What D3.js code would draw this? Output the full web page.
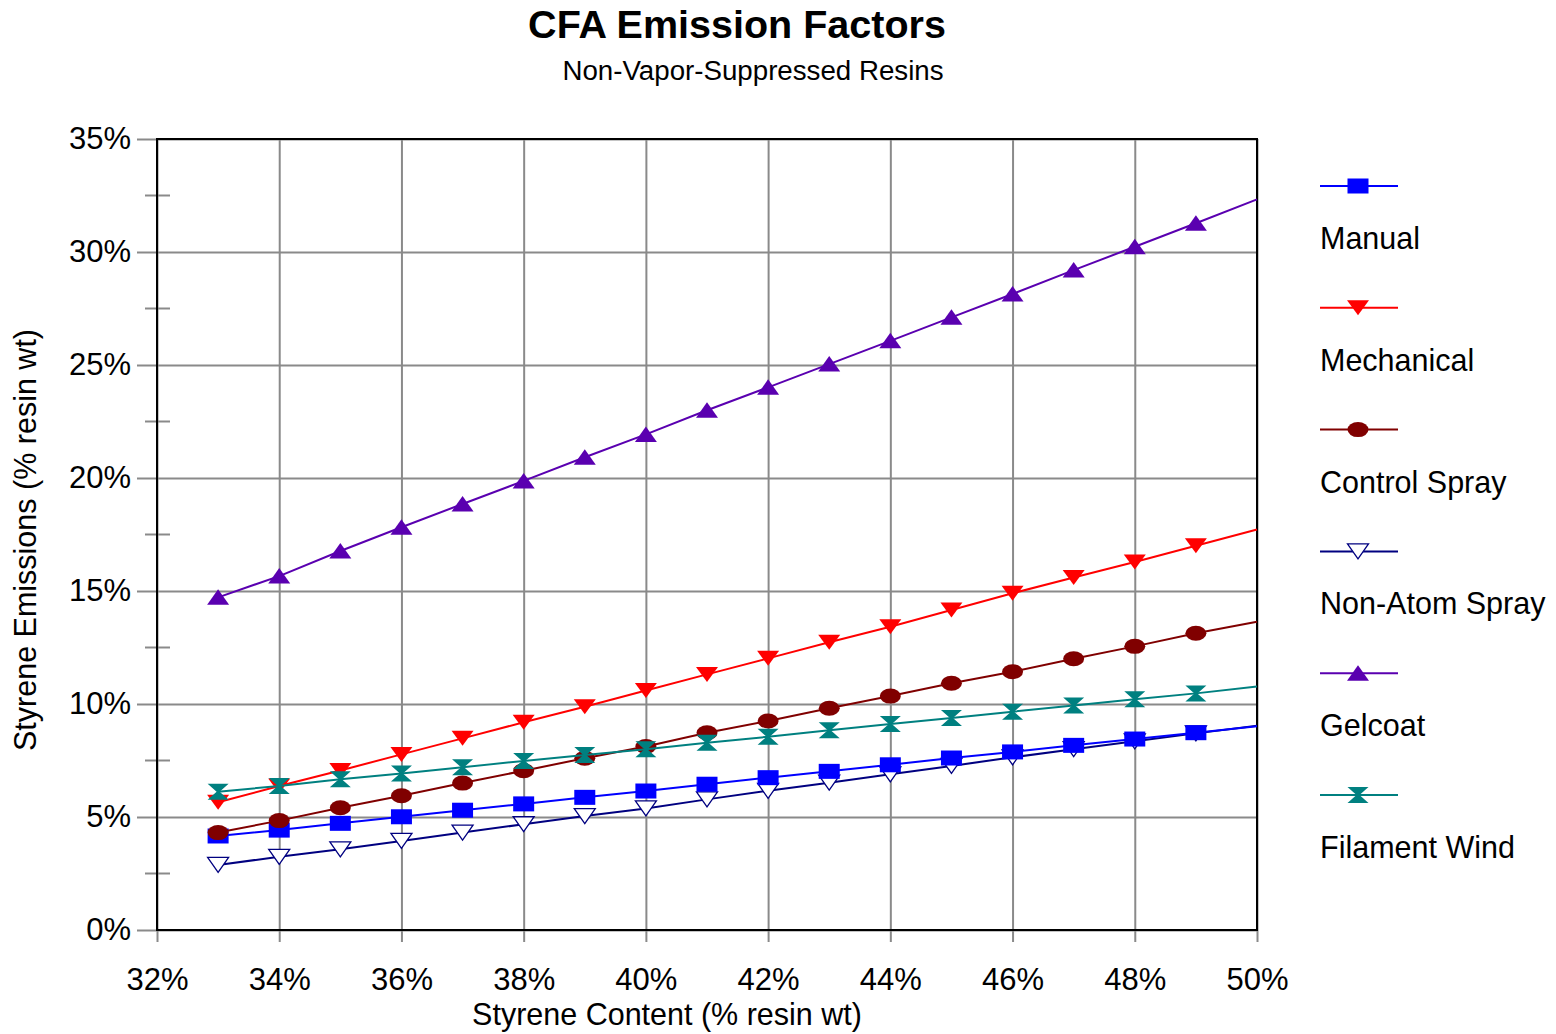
<!DOCTYPE html>
<html>
<head>
<meta charset="utf-8">
<script src="https://cdn.jsdelivr.net/npm/d3@7"></script>
<style>
  html, body { margin: 0; padding: 0; background: #fff; }
  svg { display: block; }
  text { font-family: "Liberation Sans", Arial, Helvetica, sans-serif; fill: #000; }
</style>
</head>
<body>
<svg id="chart" width="1556" height="1034"></svg>
<script>
// ---- data ----
const styreneContent = [33,34,35,36,37,38,39,40,41,42,43,44,45,46,47,48,49,50];
const manual      = [4.16,4.42,4.72,5.01,5.30,5.58,5.87,6.15,6.45,6.74,7.02,7.31,7.61,7.88,8.17,8.45,8.73,9.02];
const mechanical  = [5.65,6.37,7.06,7.77,8.48,9.19,9.88,10.60,11.31,12.02,12.73,13.42,14.16,14.90,15.60,16.28,17.00,17.72];
const controlSpray= [4.31,4.84,5.41,5.94,6.50,7.05,7.60,8.12,8.73,9.25,9.81,10.35,10.92,11.43,12.00,12.55,13.13,13.64];
const nonAtomSpray= [2.88,3.24,3.57,3.94,4.31,4.68,5.04,5.38,5.78,6.16,6.52,6.89,7.26,7.64,8.00,8.35,8.70,9.04];
const gelcoat     = [14.72,15.66,16.77,17.82,18.85,19.87,20.92,21.93,23.00,24.01,25.04,26.07,27.11,28.14,29.20,30.23,31.27,32.33];
const filamentWind= [6.12,6.37,6.67,6.92,7.20,7.48,7.74,8.00,8.29,8.55,8.84,9.12,9.38,9.66,9.93,10.21,10.47,10.77];
const markerLastX = 49; // markers shown up to 49%
const seriesNames = ["Manual","Mechanical","Control Spray","Non-Atom Spray","Gelcoat","Filament Wind"];
const xTicks = [32,34,36,38,40,42,44,46,48,50];
const yTicks = [0,5,10,15,20,25,30,35];
const yMinorTicks = [2.5,7.5,12.5,17.5,22.5,27.5,32.5];
const titleText = "CFA Emission Factors";
const subtitleText = "Non-Vapor-Suppressed Resins";
const xTitle = "Styrene Content (% resin wt)";
const yTitle = "Styrene Emissions (% resin wt)";

// ---- styles ----
const seriesValues = [manual, mechanical, controlSpray, nonAtomSpray, gelcoat, filamentWind];
const colors = ["#0000ff","#ff0000","#800000","#000080","#5a00b0","#008080"];
const shapes = ["square","triDown","circle","triDownOpen","triUp","bowtie"];
const drawOrder = [3,0,2,1,4,5];

const svg = d3.select("#chart");
const L = 157, R = 1257, T = 139, B = 930;
const x = d3.scaleLinear().domain([32,50]).range([L,R]);
const y = d3.scaleLinear().domain([0,35]).range([B,T]);

// title
svg.append("text").attr("x",737).attr("y",38).attr("text-anchor","middle")
  .attr("font-size",39.5).attr("font-weight","bold").text(titleText);
svg.append("text").attr("x",753).attr("y",80).attr("text-anchor","middle")
  .attr("font-size",27.7).text(subtitleText);

// gridlines + y axis
const yAxis = d3.axisLeft(y).tickValues(yTicks).tickFormat(d => d + "%")
  .tickSizeInner(-(R - 137)).tickSizeOuter(0).tickPadding(6);
const gy = svg.append("g").attr("transform", `translate(137,0)`).call(yAxis);
gy.select(".domain").remove();
gy.selectAll("line").attr("stroke","#8a8a8a").attr("stroke-width",2);
gy.selectAll("text").attr("font-size",31).attr("font-family","Liberation Sans, Arial, sans-serif");

const xAxis = d3.axisBottom(x).tickValues(xTicks).tickFormat(d => d + "%")
  .tickSizeInner(-(942 - T)).tickSizeOuter(0).tickPadding(26);
const gx = svg.append("g").attr("transform", `translate(0,942)`).call(xAxis);
gx.select(".domain").remove();
gx.selectAll("line").attr("stroke","#8a8a8a").attr("stroke-width",2);
gx.selectAll("text").attr("font-size",31).attr("font-family","Liberation Sans, Arial, sans-serif");

// minor y ticks
svg.append("g").selectAll("line").data(yMinorTicks).join("line")
  .attr("x1",145).attr("x2",170).attr("y1",d=>y(d)).attr("y2",d=>y(d))
  .attr("stroke","#8a8a8a").attr("stroke-width",2);

// frame
svg.append("rect").attr("x",L).attr("y",T).attr("width",R-L).attr("height",B-T)
  .attr("fill","none").attr("stroke","#000").attr("stroke-width",2);

// axis titles
svg.append("text").attr("x",667).attr("y",1025).attr("text-anchor","middle")
  .attr("font-size",30.5).text(xTitle);
svg.append("text").attr("transform","translate(36,540) rotate(-90)").attr("text-anchor","middle")
  .attr("font-size",30.5).text(yTitle);

function drawMarker(g, shape, color) {
  const w = 10.5, h = 7.5;
  if (shape === "square") {
    g.append("rect").attr("x",-w).attr("y",-h).attr("width",2*w).attr("height",2*h).attr("fill",color);
  } else if (shape === "circle") {
    g.append("ellipse").attr("rx",w).attr("ry",h).attr("fill",color);
  } else if (shape === "triDown") {
    g.append("path").attr("d",`M${-w-0.5},${-h} L${w+0.5},${-h} L0,${h} Z`).attr("fill",color);
  } else if (shape === "triDownOpen") {
    g.append("path").attr("d",`M${-w},${-h} L${w},${-h} L0,${h} Z`).attr("fill","#fff")
      .attr("stroke",color).attr("stroke-width",1.3);
  } else if (shape === "triUp") {
    g.append("path").attr("d",`M0,${-h-0.5} L${w+0.5},${h} L${-w-0.5},${h} Z`).attr("fill",color);
  } else if (shape === "bowtie") {
    g.append("path").attr("d",`M${-w},${-h-0.5} L${w},${-h-0.5} L1.5,0 L${w},${h+0.5} L${-w},${h+0.5} L-1.5,0 Z`).attr("fill",color);
  }
}

const line = d3.line().x(d => x(d[0])).y(d => y(d[1]));
const plot = svg.append("g");
drawOrder.forEach(i => {
  const vals = seriesValues[i];
  const pts = styreneContent.map((c, j) => [c, vals[j]]);
  const g = plot.append("g");
  g.append("path").attr("d", line(pts)).attr("fill","none")
    .attr("stroke", colors[i]).attr("stroke-width", 2);
  pts.filter(p => p[0] <= markerLastX).forEach(p => {
    const mg = g.append("g").attr("transform", `translate(${x(p[0])},${y(p[1])})`);
    drawMarker(mg, shapes[i], colors[i]);
  });
});

// legend
const leg = svg.append("g");
seriesNames.forEach((name, i) => {
  const ly = 186 + i * 121.8;
  leg.append("line").attr("x1",1320).attr("x2",1398).attr("y1",ly).attr("y2",ly)
    .attr("stroke",colors[i]).attr("stroke-width",2);
  const mg = leg.append("g").attr("transform",`translate(1358,${ly})`);
  drawMarker(mg, shapes[i], colors[i]);
  leg.append("text").attr("x",1320).attr("y",ly + 63).attr("font-size",30.5).text(name);
});
</script>
</body>
</html>
